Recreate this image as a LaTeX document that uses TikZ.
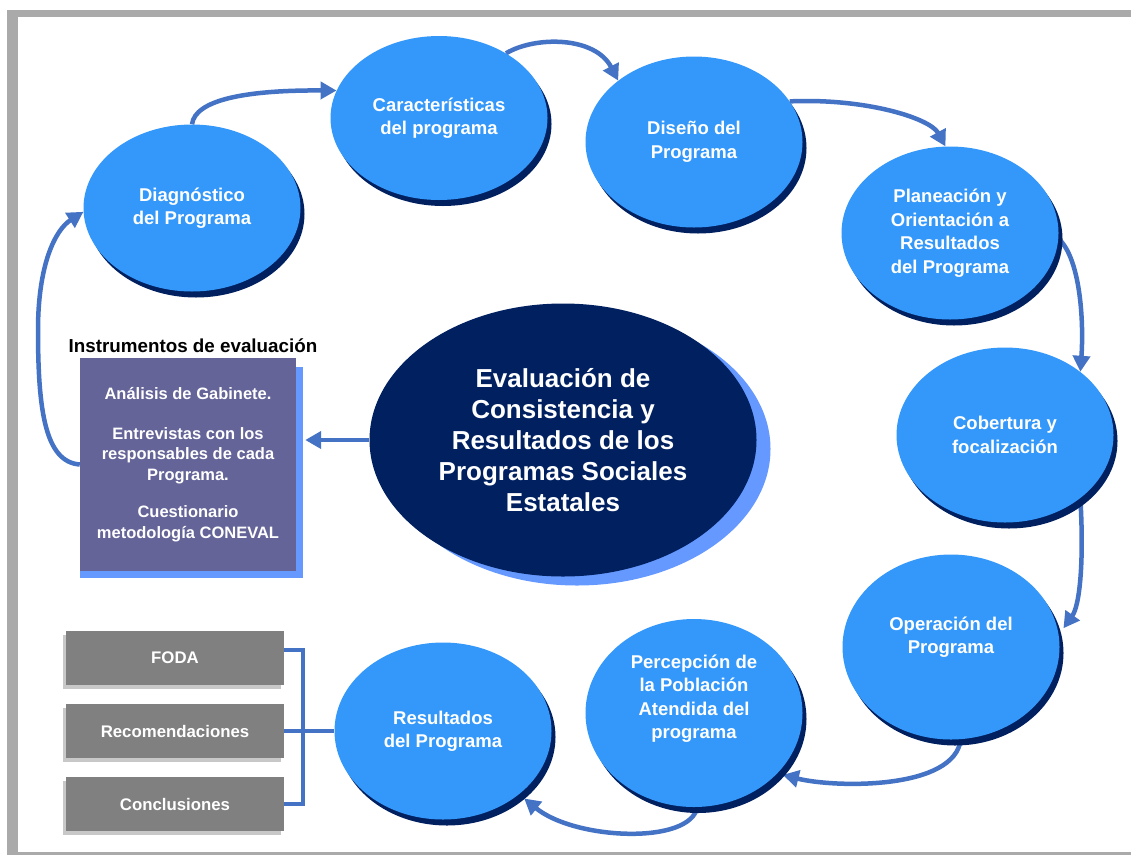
\documentclass[tikz,border=0pt]{standalone}
\usepackage{fontspec}
\setmainfont{Liberation Sans}
\usetikzlibrary{shapes.geometric,arrows.meta,shadows}
\definecolor{ellblue}{RGB}{52,152,250}
\definecolor{navy}{RGB}{0,32,96}
\definecolor{lightshadow}{RGB}{102,153,255}
\definecolor{arrowblue}{RGB}{68,114,196}
\definecolor{instpurple}{RGB}{100,100,152}
\definecolor{boxgray}{RGB}{128,128,128}
\definecolor{boxshadow}{RGB}{200,200,200}
\definecolor{framegray}{RGB}{170,170,170}
\pgfdeclarelayer{bg}
\pgfsetlayers{bg,main}
\begin{document}
\begin{tikzpicture}[x=1pt,y=-1pt,
  stage/.style={ellipse, fill=ellblue, text=white, inner sep=0pt, minimum width=217pt, align=center,
     font=\bfseries\fontsize{18.5}{23.5}\selectfont,
     drop shadow={shadow xshift=4pt,shadow yshift=-6pt,fill=navy,opacity=1}},
  arr/.style={draw=arrowblue, line width=4.5pt, -{Triangle[length=16pt,width=17pt]}},
  brk/.style={draw=arrowblue, line width=3.5pt},
  outbox/.style={rectangle, fill=boxgray, text=white, minimum width=218pt, minimum height=54pt, inner sep=0pt,
     font=\bfseries\fontsize{16.8}{20}\selectfont,
     drop shadow={shadow xshift=-3pt,shadow yshift=-4pt,fill=boxshadow,opacity=1}},
]
\useasboundingbox (0,0) rectangle (1131,855);
\begin{pgfonlayer}{bg}
\fill[white] (0,0) rectangle (1131,855);
\end{pgfonlayer}
% frame
\fill[framegray] (7,10) rectangle (1131,17);
\fill[framegray] (7,10) rectangle (18,855);
\fill[framegray] (7,852) rectangle (1131,855);

% centre
\node[ellipse, fill=navy, text=white, inner sep=0pt, minimum width=387pt, minimum height=273pt, align=center,
  font=\bfseries\fontsize{26}{31}\selectfont,
  drop shadow={shadow xshift=14pt,shadow yshift=-9pt,fill=lightshadow,opacity=1}] (cen) at (563,440)
  {Evaluación de\\Consistencia y\\Resultados de los\\Programas Sociales\\Estatales};

% stages
\node[stage, minimum height=167pt] (diag) at (192,208) {Diagnóstico\\del Programa};
\node[stage, minimum height=164pt] (car) at (439,118) {Características\\del programa};
\node[stage, minimum height=171pt] (dis) at (694,142) {Diseño del\\Programa};
\node[stage, minimum height=173pt] (plan) at (950,233) {Planeación y\\Orientación a\\Resultados\\del Programa};
\node[stage, minimum height=175pt] (cob) at (1005,435) {Cobertura y\\focalización};
\node[stage, minimum height=185pt] (oper) at (951,647) {Operación del\\Programa\rule[-24pt]{0pt}{24pt}};
\node[stage, minimum height=188pt] (perc) at (694,713) {Percepción de\\la Población\\Atendida del\\programa\rule[-33pt]{0pt}{33pt}};
\node[stage, minimum height=177pt] (res) at (443,731) {Resultados\\del Programa};

% instruments
\node[font=\bfseries\fontsize{18.8}{22}\selectfont] (title) at (193,346) {Instrumentos de evaluación};
\node[rectangle, fill=instpurple, text=white, minimum width=216pt, minimum height=213pt, inner sep=0pt, align=center,
  font=\bfseries\fontsize{16.5}{20.5}\selectfont] (inst) at (188,464.5)
  {Análisis de Gabinete.\\[19pt]Entrevistas con los\\responsables de cada\\Programa.\\[17pt]Cuestionario\\metodología CONEVAL};

% output boxes
\node[outbox] (foda) at (175,658) {FODA};
\node[outbox] (rec) at (175,731) {Recomendaciones};
\node[outbox] (conc) at (175,804) {Conclusiones};

\coordinate (bx) at (303,731);
\draw[brk] ([yshift=8pt]foda.east) -| (bx);
\draw[brk] (conc.east) -| (bx);
\draw[brk] (rec.east) -- (res.west);

\begin{pgfonlayer}{bg}
\fill[lightshadow] ([yshift=-7pt]inst.south west) rectangle ([xshift=7pt,yshift=-9pt]inst.north east);
\draw[arr] (diag.north) .. controls (195,100) and (245,90) .. (car.165);
\draw[arr] (car.44) .. controls (535,36) and (595,36) .. (dis.141);
\draw[arr] (dis.23) .. controls (865,98) and (930,118) .. (plan.93);
\draw[arr] (plan.-3) .. controls (1080,258) and (1084,320) .. (cob.40);
\draw[arr] (cob.-40) .. controls (1084,560) and (1080,605) .. ([xshift=6pt]oper.10);
\draw[arr] (oper.-84) .. controls (955,790) and (835,788) .. ([xshift=3pt,yshift=-4pt]perc.-34);
\draw[arr] (perc.-88) .. controls (690,845) and (575,840) .. ([xshift=4pt,yshift=-5pt]res.-39);
\draw[arr] (cen.west) -- ([xshift=9pt]inst.east |- cen.west);
\draw[arr] (inst.west) .. controls (45,462) and (38,410) .. (38,330) .. controls (38,265) and (55,230) .. (diag.182);
\end{pgfonlayer}
\end{tikzpicture}
\end{document}
